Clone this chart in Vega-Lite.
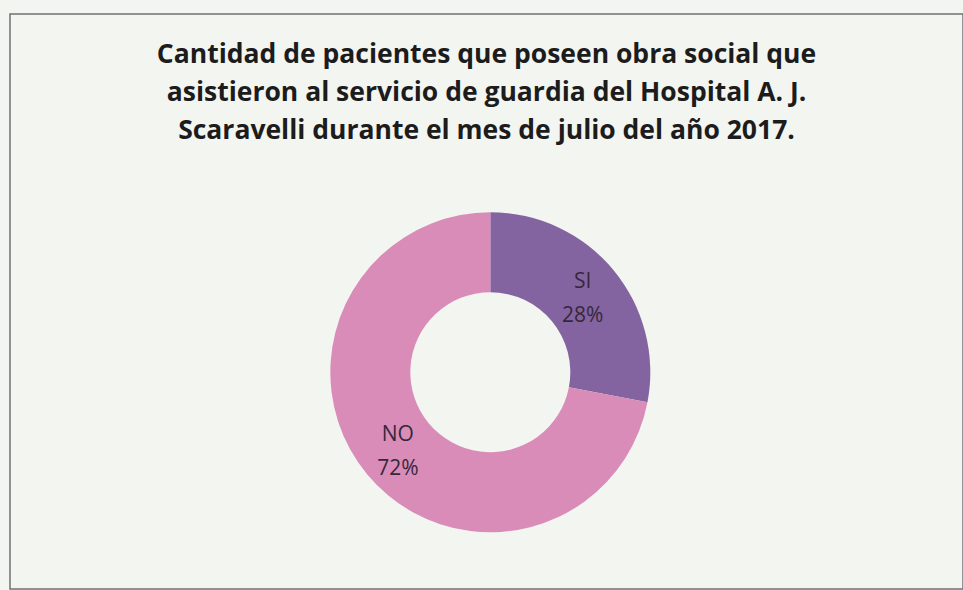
{
  "$schema": "https://vega.github.io/schema/vega-lite/v6.json",
  "description": "Donut chart of patients with obra social, Hospital A. J. Scaravelli, July 2017",
  "width": 963,
  "height": 590,
  "autosize": {"type": "fit", "contains": "padding"},
  "padding": {"left": 10, "top": 14, "right": 0, "bottom": 1},
  "background": "#f3f5f1",
  "view": {"stroke": "#707070", "strokeWidth": 1.5},
  "title": {
    "text": [
      "Cantidad de pacientes que poseen obra social que",
      "asistieron  al servicio de guardia del Hospital A. J.",
      "Scaravelli durante el mes de julio del año 2017."
    ],
    "orient": "top",
    "anchor": "middle",
    "frame": "group",
    "baseline": "top",
    "offset": -130,
    "font": "Open Sans",
    "fontSize": 26.5,
    "fontWeight": "bold",
    "lineHeight": 38,
    "color": "#1c1c1c"
  },
  "data": {
    "values": [
      {"category": "SI", "value": 28, "label": "SI\n28%"},
      {"category": "NO", "value": 72, "label": "NO\n72%"}
    ]
  },
  "encoding": {
    "theta": {"field": "value", "type": "quantitative", "stack": true},
    "order": {"field": "value", "type": "quantitative", "sort": "ascending"}
  },
  "layer": [
    {
      "mark": {
        "type": "arc",
        "outerRadius": 160,
        "innerRadius": 80,
        "x": {"expr": "width * 0.504"},
        "y": {"expr": "height * 0.623"}
      },
      "encoding": {
        "color": {
          "field": "category",
          "type": "nominal",
          "scale": {"domain": ["SI", "NO"], "range": ["#8464a0", "#da8cb8"]},
          "legend": null
        }
      }
    },
    {
      "mark": {
        "type": "text",
        "radius": 120,
        "x": {"expr": "width * 0.504"},
        "y": {"expr": "height * 0.623"},
        "dy": -14,
        "lineBreak": "\n",
        "lineHeight": 34,
        "font": "Open Sans",
        "fontSize": 21,
        "color": "#36283c",
        "align": "center",
        "baseline": "middle"
      },
      "encoding": {
        "text": {"field": "label", "type": "nominal"}
      }
    }
  ]
}
